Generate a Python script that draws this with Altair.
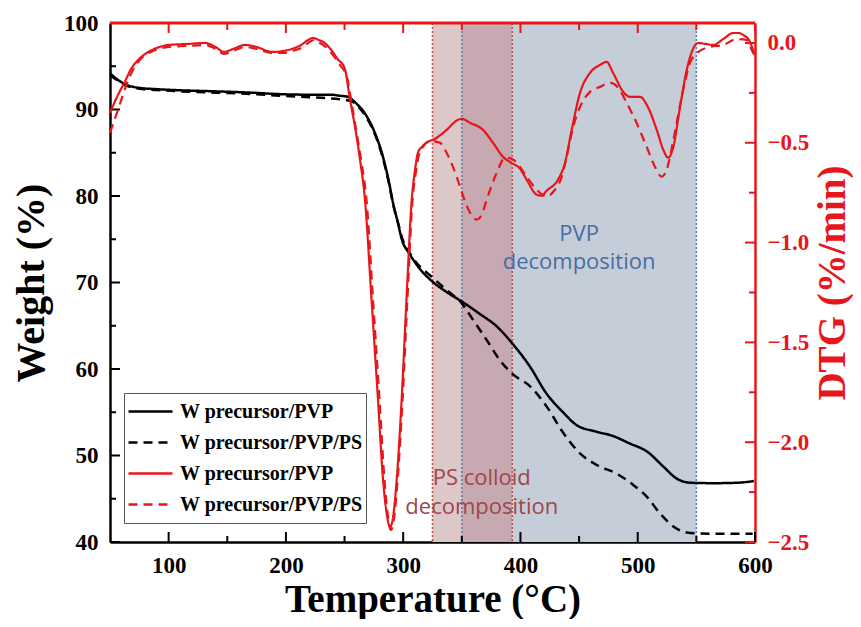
import altair as alt
import pandas as pd

# ---------------- data ----------------
tg_pvp_T = [50, 57, 65, 75, 90, 110, 140, 170, 200, 230, 240, 245, 252, 260, 269, 276, 282, 287.5, 292, 295, 299,
            305, 315, 325, 337, 350, 365, 380, 394, 408, 422, 437, 448, 465, 479, 493, 508, 522, 533, 545, 565, 585, 599]
tg_pvp_W = [94.2, 93.4, 92.8, 92.5, 92.35, 92.22, 92.1, 91.95, 91.75, 91.7, 91.7, 91.6, 91.5, 90.7, 89.2, 87.25, 84.9,
            81.85, 78.8, 77.2, 74.9, 73.4, 71.45, 70.1, 68.9, 67.8, 66.4, 64.9, 62.8, 60.3, 57.2, 54.9, 53.5, 52.75,
            52.25, 51.4, 50.45, 48.7, 47.35, 46.85, 46.8, 46.85, 47.05]

tg_ps_T = [50, 57, 65, 75, 90, 110, 140, 170, 200, 230, 245, 255, 262, 269, 276, 282, 287.5, 292, 295, 299, 308.6,
           325.7, 335.6, 349.9, 359, 371.2, 382.6, 392.5, 408.2, 422.4, 436.6, 450.8, 465, 482, 496.2, 507.7, 519,
           530.4, 541.8, 550, 575, 598]
tg_ps_W = [94.0, 93.3, 92.7, 92.4, 92.25, 92.1, 91.95, 91.8, 91.55, 91.35, 91.2, 91.0, 90.3, 89.0, 87.1, 84.7, 81.7,
           78.7, 77.2, 75.2, 72.8, 70.5, 69.3, 67.6, 65.8, 63.35, 61.0, 59.5, 58.0, 55.65, 52.6, 50.25, 48.9, 47.9,
           46.6, 45.25, 43.3, 41.8, 41.1, 41.0, 40.95, 40.95]

dtg_pvp_T = [50, 56, 63, 68, 74, 80, 86, 100, 116, 131, 140, 147, 155, 165, 175, 188, 198, 205, 213, 219, 223, 228,
             233, 238, 244, 250, 254.7, 258.9, 263.2, 267.4, 273, 278.5, 282.8, 286, 288.8, 291.5, 294.5, 298.7,
             302.8, 307.3, 310, 312.6, 316, 320, 328.6, 337.1, 346.8, 350, 357, 368, 376.6, 385.1, 392, 399.6, 405.3,
             413.8, 418, 422.4, 432, 438, 443.7, 450.8, 459.3, 467.8, 473.5, 479, 487.7, 493.4, 502, 507.7, 516.2,
             521.8, 526, 530.4, 536.1, 541.8, 547.4, 551.7, 558, 564.5, 573, 581.5, 586, 590, 595.8, 599]
dtg_pvp_D = [-0.35, -0.27, -0.19, -0.13, -0.085, -0.055, -0.035, -0.01, -0.005, 0.0, -0.02, -0.045, -0.03, -0.01,
             -0.02, -0.045, -0.04, -0.03, -0.01, 0.015, 0.025, 0.015, 0.0, -0.03, -0.08, -0.125, -0.285, -0.42,
             -0.585, -0.785, -1.285, -1.785, -2.185, -2.36, -2.425, -2.37, -2.185, -1.785, -1.285, -0.785, -0.64,
             -0.55, -0.52, -0.50, -0.475, -0.435, -0.385, -0.38, -0.40, -0.435, -0.50, -0.57, -0.60, -0.63, -0.685,
             -0.76, -0.765, -0.74, -0.685, -0.60, -0.435, -0.25, -0.15, -0.11, -0.095, -0.15, -0.245, -0.27, -0.27,
             -0.31, -0.435, -0.535, -0.575, -0.52, -0.32, -0.135, -0.027, 0.0, -0.005, -0.01, 0.02, 0.05, 0.05,
             0.04, 0.005, -0.05]

dtg_ps_T = [50, 56.8, 65.3, 71, 77, 85, 100, 116, 131, 140, 147, 155, 165, 175, 188, 198, 205, 213, 219, 224, 229,
            234, 240, 246, 252, 256, 260, 264.5, 268.7, 274.3, 279.8, 284, 287, 289.5, 292.2, 295.3, 299.5, 303.6,
            308, 311, 313.5, 317, 322.9, 331.4, 337, 345.6, 351.3, 357, 362.7, 367, 371.2, 379.8, 386.8, 392.5,
            396.8, 405.3, 413.8, 422.4, 428, 435.2, 439.4, 445, 450.8, 459.3, 467.8, 476.4, 483.4, 490.6, 499,
            507.6, 514.7, 520.4, 524.7, 530.4, 537.5, 544.6, 551.7, 561.6, 573, 584.4, 593, 597.2, 599.5]
dtg_ps_D = [-0.45, -0.335, -0.19, -0.12, -0.075, -0.045, -0.02, -0.015, -0.01, -0.03, -0.055, -0.04, -0.02, -0.03,
            -0.05, -0.05, -0.04, -0.025, 0.0, 0.015, 0.0, -0.02, -0.06, -0.11, -0.17, -0.3, -0.44, -0.6, -0.785,
            -1.285, -1.785, -2.185, -2.37, -2.44, -2.38, -2.185, -1.785, -1.285, -0.785, -0.64, -0.56, -0.52,
            -0.49, -0.50, -0.55, -0.67, -0.77, -0.85, -0.885, -0.86, -0.785, -0.65, -0.575, -0.58, -0.60, -0.67,
            -0.735, -0.77, -0.745, -0.67, -0.57, -0.42, -0.32, -0.245, -0.22, -0.20, -0.225, -0.30, -0.40, -0.52,
            -0.62, -0.67, -0.635, -0.485, -0.27, -0.10, -0.045, -0.02, -0.01, 0.02, 0.015, -0.035, -0.06]

series_names = ["W precursor/PVP (TG)", "W precursor/PVP/PS (TG)",
                "W precursor/PVP (DTG)", "W precursor/PVP/PS (DTG)"]

region_start = [325, 350, 393]
region_end = [350, 393, 550]
region_fill = ["#dcc8c8", "#c7a9b2", "#c4cdd8"]

boundary_T = [325, 350, 393, 550]
boundary_color = ["#c0504d", "#4f81bd", "#c0504d", "#4f81bd"]

x_major = [100, 200, 300, 400, 500, 600]
x_minor = [150, 250, 350, 450, 550]
w_major = [40, 50, 60, 70, 80, 90, 100]
w_minor = [45, 55, 65, 75, 85, 95]
d_major = [0.0, -0.5, -1.0, -1.5, -2.0, -2.5]
d_minor = [-0.25, -0.75, -1.25, -1.75, -2.25]

# ---------------- tables ----------------
tg = pd.concat([
    pd.DataFrame({"T": tg_pvp_T, "v": tg_pvp_W, "series": series_names[0]}),
    pd.DataFrame({"T": tg_ps_T, "v": tg_ps_W, "series": series_names[1]}),
])
dtg = pd.concat([
    pd.DataFrame({"T": dtg_pvp_T, "v": dtg_pvp_D, "series": series_names[2]}),
    pd.DataFrame({"T": dtg_ps_T, "v": dtg_ps_D, "series": series_names[3]}),
])
regions = pd.DataFrame({"s": region_start, "e": region_end, "c": region_fill})
bounds = pd.DataFrame({"T": boundary_T, "c": boundary_color})

W, H = 645, 519
RED = "#e8161b"
SERIF = "Liberation Serif"
XD = [50, 600]
WD = [40, 100]
DD = [-2.5, 0.1]

xs = alt.Scale(domain=XD, nice=False, zero=False)
ysL = alt.Scale(domain=WD, nice=False, zero=False)
ysR = alt.Scale(domain=DD, nice=False, zero=False)

color_scale = alt.Scale(domain=series_names, range=["#000000", "#000000", RED, RED])
dash_scale = alt.Scale(domain=series_names, range=[[1, 0], [9, 6], [1, 0], [9, 6]])

legend = alt.Legend(
    title=None, orient="none", legendX=14, legendY=370,
    symbolType="stroke", symbolSize=1936, symbolStrokeWidth=2.5,
    labelFont=SERIF, labelFontWeight="bold", labelFontSize=20, labelColor="black",
    labelLimit=400, labelOffset=6,
    labelExpr="replace(replace(datum.label, ' (TG)', ''), ' (DTG)', '')",
    strokeColor="#555555", fillColor="white", padding=3, rowPadding=0, clipHeight=31,
)

x_axis = alt.Axis(
    values=x_major, ticks=False, tickSize=0, labelPadding=12, grid=False, orient="bottom",
    labelFlush=False,
    labelFont=SERIF, labelFontWeight="bold", labelFontSize=23, labelColor="black",
    domainColor="black", domainWidth=2.5,
    title="Temperature (°C)", titleFont=SERIF, titleFontWeight="bold", titleFontSize=39,
    titleColor="black", titlePadding=3,
)

bg = alt.Chart(regions).mark_rect().encode(
    x=alt.X("s:Q", scale=xs, axis=x_axis), x2="e:Q",
    y=alt.value(0), y2=alt.value(H),
    color=alt.Color("c:N", scale=None),
)
vlines = alt.Chart(bounds).mark_rule(strokeDash=[2, 2], strokeWidth=1.6).encode(
    x=alt.X("T:Q", scale=xs, axis=x_axis),
    y=alt.value(0), y2=alt.value(H),
    color=alt.Color("c:N", scale=None),
)

ann = pd.DataFrame({
    "T": [367, 367, 450, 450],
    "txt": ["PS colloid", "decomposition", "PVP", "decomposition"],
    "py": [455, 484, 211, 239],
    "c": ["#a0464b", "#a0464b", "#476ea2", "#476ea2"],
})
texts = alt.Chart(ann).mark_text(font="Open Sans", fontSize=22, baseline="middle", align="center").encode(
    x=alt.X("T:Q", scale=xs, axis=x_axis),
    y=alt.Y("py:Q", scale=None),
    text="txt:N",
    color=alt.Color("c:N", scale=None),
)

tg_lines = alt.Chart(tg).mark_line(strokeWidth=2.5, interpolate="monotone").encode(
    x=alt.X("T:Q", scale=xs, axis=x_axis),
    y=alt.Y("v:Q", scale=ysL, axis=alt.Axis(
        values=w_major, ticks=False, tickSize=0, labelPadding=12, grid=False, orient="left",
        labelFont=SERIF, labelFontWeight="bold", labelFontSize=23, labelColor="black",
        domainColor="black", domainWidth=2.5,
        title="Weight (%)", titleFont=SERIF, titleFontWeight="bold", titleFontSize=40,
        titleColor="black", titlePadding=12)),
    color=alt.Color("series:N", scale=color_scale, legend=legend),
    strokeDash=alt.StrokeDash("series:N", scale=dash_scale, legend=legend),
    detail="series:N",
)

# tick marks (inward)
tL = alt.Chart(pd.DataFrame({"v": w_major})).mark_rule(color="black", strokeWidth=2).encode(
    y=alt.Y("v:Q", scale=ysL), x=alt.value(0), x2=alt.value(10))
tLm = alt.Chart(pd.DataFrame({"v": w_minor})).mark_rule(color="black", strokeWidth=2).encode(
    y=alt.Y("v:Q", scale=ysL), x=alt.value(0), x2=alt.value(6))
left_group = alt.layer(tg_lines, tL, tLm)

dtg_lines = alt.Chart(dtg).mark_line(strokeWidth=2.2, interpolate="monotone").encode(
    x=alt.X("T:Q", scale=xs, axis=x_axis),
    y=alt.Y("v:Q", scale=ysR, axis=alt.Axis(
        values=d_major, format=".1f", ticks=False, tickSize=0, labelPadding=12, grid=False, orient="right",
        labelFont=SERIF, labelFontWeight="bold", labelFontSize=23, labelColor=RED,
        domainColor=RED, domainWidth=2.5,
        title="DTG (%/min)", titleFont=SERIF, titleFontWeight="bold", titleFontSize=39,
        titleColor=RED, titlePadding=5, titleAngle=270, titleBaseline="top")),
    color=alt.Color("series:N", scale=color_scale, legend=legend),
    strokeDash=alt.StrokeDash("series:N", scale=dash_scale, legend=legend),
    detail="series:N",
)
tR = alt.Chart(pd.DataFrame({"v": d_major})).mark_rule(color=RED, strokeWidth=2).encode(
    y=alt.Y("v:Q", scale=ysR), x=alt.value(W), x2=alt.value(W - 10))
tRm = alt.Chart(pd.DataFrame({"v": d_minor})).mark_rule(color=RED, strokeWidth=2).encode(
    y=alt.Y("v:Q", scale=ysR), x=alt.value(W), x2=alt.value(W - 6))
right_group = alt.layer(dtg_lines, tR, tRm)

tB = alt.Chart(pd.DataFrame({"T": x_major})).mark_rule(color="black", strokeWidth=2).encode(
    x=alt.X("T:Q", scale=xs, axis=x_axis), y=alt.value(H), y2=alt.value(H - 10))
tBm = alt.Chart(pd.DataFrame({"T": x_minor})).mark_rule(color="black", strokeWidth=2).encode(
    x=alt.X("T:Q", scale=xs, axis=x_axis), y=alt.value(H), y2=alt.value(H - 6))
tT = alt.Chart(pd.DataFrame({"T": x_major})).mark_rule(color=RED, strokeWidth=2).encode(
    x=alt.X("T:Q", scale=xs, axis=x_axis), y=alt.value(0), y2=alt.value(10))
tTm = alt.Chart(pd.DataFrame({"T": x_minor})).mark_rule(color=RED, strokeWidth=2).encode(
    x=alt.X("T:Q", scale=xs, axis=x_axis), y=alt.value(0), y2=alt.value(7))
top_line = alt.Chart(pd.DataFrame({"T": XD})).mark_rule(color=RED, strokeWidth=3).encode(
    x=alt.X("min(T):Q", scale=xs, axis=x_axis), x2="max(T):Q", y=alt.value(0))

chart = alt.layer(
    bg, vlines, texts, left_group, right_group, tB, tBm, tT, tTm, top_line
).resolve_scale(y="independent").properties(
    width=W, height=H,
    padding={"left": 102, "top": 15, "right": 98, "bottom": 77},
    autosize=alt.AutoSizeParams(type="none"),
).configure_view(stroke=None).configure(background="white")

chart.save("out.html", embed_options={"renderer": "svg", "actions": False})
